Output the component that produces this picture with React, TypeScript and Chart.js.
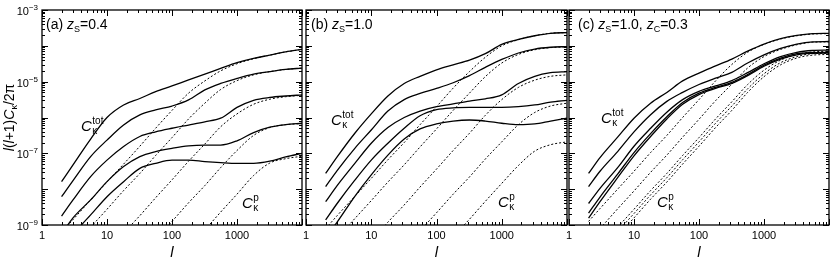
import React, { useEffect, useRef } from "react";
import { Chart, registerables } from "chart.js";

Chart.register(...registerables);

// ---------- data ----------
const ELL = [2, 3, 5.6, 10, 18, 32, 56, 100, 180, 320, 560, 1000, 1800, 3200, 5600, 10000];
const X_TICK_LABELS = [1, 10, 100, 1000];
const Y_LABEL_EXPONENTS = [-3, -5, -7, -9];

// panel (a) z_S = 0.4 : total spectra
const A_TOT_1 = [1.62e-8, 4.79e-8, 2.51e-7, 1.0e-6, 2.24e-6, 3.39e-6, 5.25e-6, 7.59e-6, 1.12e-5, 1.62e-5, 2.34e-5, 3.39e-5, 4.47e-5, 5.5e-5, 6.76e-5, 7.94e-5];
const A_TOT_2 = [6.17e-9, 1.74e-8, 8.13e-8, 2.34e-7, 6.17e-7, 1.18e-6, 1.62e-6, 2.09e-6, 3.09e-6, 5.89e-6, 8.91e-6, 1.23e-5, 1.62e-5, 1.91e-5, 2.19e-5, 2.4e-5];
const A_TOT_3 = [1.78e-9, 5.01e-9, 2.24e-8, 6.46e-8, 1.55e-7, 2.95e-7, 3.98e-7, 5.01e-7, 6.17e-7, 7.59e-7, 9.55e-7, 1.91e-6, 3.02e-6, 3.63e-6, 3.98e-6, 4.27e-6];
const A_TOT_4 = [5.62e-10, 1.58e-9, 5.01e-9, 1.62e-8, 4.27e-8, 8.13e-8, 1.12e-7, 1.38e-7, 1.62e-7, 1.7e-7, 1.7e-7, 2.24e-7, 3.8e-7, 5.37e-7, 6.31e-7, 6.92e-7];
const A_TOT_5 = [null, 5.62e-10, 1.91e-9, 6.17e-9, 1.62e-8, 3.8e-8, 5.25e-8, 6.46e-8, 6.46e-8, 5.89e-8, 5.5e-8, 5.25e-8, 5.25e-8, 6.03e-8, 7.94e-8, 1.0e-7];
// panel (a) : Poisson spectra
const A_P_1 = [6.31e-10, 1.41e-9, 5.01e-9, 1.58e-8, 5.01e-8, 1.58e-7, 5.01e-7, 1.58e-6, 4.79e-6, 1.05e-5, 2.0e-5, 3.16e-5, 4.37e-5, 5.5e-5, 6.76e-5, 7.94e-5];
const A_P_2 = [null, null, 8.71e-10, 2.75e-9, 9.12e-9, 2.75e-8, 8.71e-8, 2.75e-7, 9.12e-7, 2.51e-6, 6.03e-6, 1.07e-5, 1.55e-5, 1.91e-5, 2.19e-5, 2.4e-5];
const A_P_3 = [null, null, null, null, 6.03e-10, 1.82e-9, 5.75e-9, 1.82e-8, 6.03e-8, 1.82e-7, 5.5e-7, 1.26e-6, 2.34e-6, 3.24e-6, 3.8e-6, 4.17e-6];
const A_P_4 = [null, null, null, null, null, null, 3.98e-10, 1.26e-9, 4.17e-9, 1.26e-8, 3.98e-8, 1.2e-7, 3.16e-7, 5.25e-7, 6.31e-7, 6.76e-7];
const A_P_5 = [null, null, null, null, null, null, null, null, null, 7.24e-10, 2.29e-9, 7.24e-9, 2.4e-8, 5.37e-8, 7.08e-8, 8.32e-8];

// panel (b) z_S = 1.0
const B_TOT_1 = [2.75e-8, 7.94e-8, 3.63e-7, 1.26e-6, 3.98e-6, 8.91e-6, 1.41e-5, 2.14e-5, 2.95e-5, 3.98e-5, 6.03e-5, 1.1e-4, 1.51e-4, 1.91e-4, 2.24e-4, 2.34e-4];
const B_TOT_2 = [1.18e-8, 3.31e-8, 1.38e-7, 4.47e-7, 1.51e-6, 3.16e-6, 4.68e-6, 6.46e-6, 9.33e-6, 1.48e-5, 2.51e-5, 4.17e-5, 6.31e-5, 8.13e-5, 9.12e-5, 9.55e-5];
const B_TOT_3 = [4.47e-9, 1.26e-8, 5.25e-8, 1.91e-7, 5.25e-7, 1.0e-6, 1.51e-6, 2.0e-6, 2.4e-6, 2.88e-6, 3.31e-6, 4.27e-6, 8.91e-6, 1.41e-5, 1.78e-5, 1.91e-5];
const B_TOT_4 = [1.38e-9, 3.98e-9, 1.78e-8, 6.46e-8, 1.91e-7, 5.01e-7, 1.12e-6, 1.66e-6, 1.86e-6, 1.91e-6, 1.91e-6, 1.91e-6, 2.0e-6, 2.24e-6, 2.69e-6, 3.02e-6];
const B_TOT_5 = [4.47e-10, 1.2e-9, 6.31e-9, 2.51e-8, 8.91e-8, 2.51e-7, 4.79e-7, 6.61e-7, 7.94e-7, 8.51e-7, 7.94e-7, 6.92e-7, 6.31e-7, 6.61e-7, 7.94e-7, 9.55e-7];
const B_P_1 = [7.94e-10, 1.82e-9, 6.31e-9, 2.0e-8, 6.61e-8, 2.0e-7, 6.31e-7, 2.0e-6, 6.61e-6, 1.91e-5, 4.79e-5, 1.0e-4, 1.48e-4, 1.91e-4, 2.24e-4, 2.34e-4];
const B_P_2 = [null, 4.37e-10, 1.51e-9, 4.79e-9, 1.58e-8, 4.79e-8, 1.51e-7, 4.79e-7, 1.58e-6, 4.79e-6, 1.38e-5, 3.31e-5, 5.75e-5, 7.76e-5, 8.91e-5, 9.33e-5];
const B_P_3 = [null, null, null, 3.63e-10, 1.2e-9, 3.63e-9, 1.15e-8, 3.63e-8, 1.2e-7, 3.63e-7, 1.15e-6, 3.16e-6, 6.92e-6, 1.1e-5, 1.41e-5, 1.55e-5];
const B_P_4 = [null, null, null, null, null, null, 6.92e-10, 2.19e-9, 7.24e-9, 2.19e-8, 6.92e-8, 2.09e-7, 6.31e-7, 1.38e-6, 2.09e-6, 2.51e-6];
const B_P_5 = [null, null, null, null, null, null, null, null, 4.79e-10, 1.45e-9, 4.57e-9, 1.45e-8, 4.57e-8, 1.15e-7, 1.74e-7, 2.09e-7];

// panel (c) z_S = 1.0, z_C = 0.3
const C_TOT_1 = [2.75e-8, 7.59e-8, 2.82e-7, 9.55e-7, 2.51e-6, 5.01e-6, 1.05e-5, 1.74e-5, 2.75e-5, 4.27e-5, 7.08e-5, 1.12e-4, 1.58e-4, 1.95e-4, 2.19e-4, 2.24e-4];
const C_TOT_2 = [1.18e-8, 3.16e-8, 1.12e-7, 3.98e-7, 1.2e-6, 2.82e-6, 5.01e-6, 8.32e-6, 1.26e-5, 1.82e-5, 3.31e-5, 5.62e-5, 8.51e-5, 1.12e-4, 1.29e-4, 1.32e-4];
const C_TOT_3 = [3.98e-9, 1.05e-8, 3.98e-8, 1.58e-7, 5.01e-7, 1.41e-6, 3.16e-6, 5.37e-6, 7.59e-6, 1.07e-5, 1.78e-5, 3.16e-5, 5.01e-5, 6.61e-5, 7.41e-5, 7.59e-5];
const C_TOT_4 = [2.14e-9, 6.03e-9, 2.63e-8, 1.05e-7, 3.55e-7, 1.05e-6, 2.63e-6, 4.79e-6, 6.92e-6, 9.55e-6, 1.58e-5, 2.88e-5, 4.57e-5, 6.03e-5, 6.46e-5, 6.61e-5];
const C_TOT_5 = [1.55e-9, 4.47e-9, 2.09e-8, 8.51e-8, 2.95e-7, 9.12e-7, 2.34e-6, 4.37e-6, 6.46e-6, 8.91e-6, 1.48e-5, 2.69e-5, 4.27e-5, 5.62e-5, 6.17e-5, 6.31e-5];
const C_P_1 = [1.26e-9, 2.88e-9, 1.0e-8, 3.16e-8, 1.05e-7, 3.16e-7, 1.0e-6, 3.16e-6, 1.05e-5, 3.02e-5, 6.61e-5, 1.1e-4, 1.55e-4, 1.91e-4, 2.14e-4, 2.19e-4];
const C_P_2 = [null, 7.94e-10, 2.82e-9, 8.91e-9, 2.95e-8, 8.91e-8, 2.82e-7, 8.91e-7, 2.95e-6, 8.51e-6, 2.4e-5, 5.01e-5, 7.94e-5, 1.07e-4, 1.26e-4, 1.29e-4];
const C_P_3 = [null, null, 8.71e-10, 2.75e-9, 9.12e-9, 2.75e-8, 8.71e-8, 2.75e-7, 9.12e-7, 2.75e-6, 8.32e-6, 2.09e-5, 3.98e-5, 5.75e-5, 6.76e-5, 7.08e-5];
const C_P_4 = [null, null, 6.61e-10, 2.09e-9, 6.92e-9, 2.09e-8, 6.61e-8, 2.09e-7, 6.92e-7, 2.09e-6, 6.31e-6, 1.66e-5, 3.39e-5, 5.01e-5, 6.03e-5, 6.17e-5];
const C_P_5 = [null, null, 5.01e-10, 1.58e-9, 5.25e-9, 1.58e-8, 5.01e-8, 1.58e-7, 5.25e-7, 1.58e-6, 5.01e-6, 1.38e-5, 2.95e-5, 4.57e-5, 5.5e-5, 5.75e-5];

// ---------- layout / style ----------
const W = 831;
const H = 261;
const TOP = 10;
const BOTTOM = 225;
const FONT = '"Liberation Sans", Arial, Helvetica, sans-serif';
const fnt = (size: number, italic = false) => `${italic ? "italic " : ""}${size}px ${FONT}`;

type Seg = { t: string; size: number; italic?: boolean; dy?: number };

function segsWidth(ctx: CanvasRenderingContext2D, segs: Seg[]) {
  let w = 0;
  for (const s of segs) {
    ctx.font = fnt(s.size, s.italic);
    w += ctx.measureText(s.t).width;
  }
  return w;
}
function drawSegs(ctx: CanvasRenderingContext2D, segs: Seg[], x: number, y: number) {
  let cx = x;
  for (const s of segs) {
    ctx.font = fnt(s.size, s.italic);
    ctx.fillText(s.t, cx, y + (s.dy || 0));
    cx += ctx.measureText(s.t).width;
  }
  return cx - x;
}
function drawCkappa(ctx: CanvasRenderingContext2D, x: number, y: number, sup: string) {
  ctx.font = fnt(15, true);
  ctx.fillText("C", x, y);
  const cw = ctx.measureText("C").width;
  ctx.font = fnt(10);
  ctx.fillText("\u03ba", x + cw + 0.5, y + 3);
  ctx.fillText(sup, x + cw + 0.5, y - 7);
}

type PanelCfg = {
  left: number;
  right: number;
  tot: (number | null)[][];
  poi: (number | null)[][];
  title: Seg[];
  titleX: number;
  totPos: [number, number];
  pPos: [number, number];
  yLabels: boolean;
};

const PANELS: PanelCfg[] = [
  {
    left: 42, right: 302,
    tot: [A_TOT_1, A_TOT_2, A_TOT_3, A_TOT_4, A_TOT_5],
    poi: [A_P_1, A_P_2, A_P_3, A_P_4, A_P_5],
    title: [{ t: "(a) ", size: 14 }, { t: "z", size: 14, italic: true }, { t: "S", size: 9, dy: 3 }, { t: "=0.4", size: 14 }],
    titleX: 46, totPos: [81, 131], pPos: [242, 208], yLabels: true,
  },
  {
    left: 306, right: 567,
    tot: [B_TOT_1, B_TOT_2, B_TOT_3, B_TOT_4, B_TOT_5],
    poi: [B_P_1, B_P_2, B_P_3, B_P_4, B_P_5],
    title: [{ t: "(b) ", size: 14 }, { t: "z", size: 14, italic: true }, { t: "S", size: 9, dy: 3 }, { t: "=1.0", size: 14 }],
    titleX: 311, totPos: [331, 125], pPos: [498, 207], yLabels: false,
  },
  {
    left: 569, right: 829,
    tot: [C_TOT_1, C_TOT_2, C_TOT_3, C_TOT_4, C_TOT_5],
    poi: [C_P_1, C_P_2, C_P_3, C_P_4, C_P_5],
    title: [
      { t: "(c) ", size: 14 }, { t: "z", size: 14, italic: true }, { t: "S", size: 9, dy: 3 }, { t: "=1.0, ", size: 14 },
      { t: "z", size: 14, italic: true }, { t: "C", size: 9, dy: 3 }, { t: "=0.3", size: 14 },
    ],
    titleX: 578, totPos: [601, 123], pPos: [657, 207], yLabels: false,
  },
];

function makeOverlay(cfg: PanelCfg) {
  return {
    id: "overlay",
    afterDraw(chart: any) {
      const ctx: CanvasRenderingContext2D = chart.ctx;
      const { left, right, top, bottom } = chart.chartArea;
      const xs = chart.scales.x;
      const ys = chart.scales.y;
      ctx.save();
      ctx.strokeStyle = "#000";
      ctx.fillStyle = "#000";
      ctx.lineWidth = 1.3;
      ctx.strokeRect(left, top, right - left, bottom - top);
      ctx.lineWidth = 1;
      ctx.beginPath();
      // x ticks
      for (let d = 0; d <= 4; d++) {
        for (let m = 1; m <= 9; m++) {
          const v = m * Math.pow(10, d);
          if (v > 10000) break;
          const px = Math.round(xs.getPixelForValue(v)) + 0.5;
          const len = m === 1 ? 6 : 3;
          ctx.moveTo(px, bottom);
          ctx.lineTo(px, bottom - len);
          ctx.moveTo(px, top);
          ctx.lineTo(px, top + len);
        }
      }
      // y ticks
      for (let e = -9; e <= -3; e++) {
        for (let m = 1; m <= 9; m++) {
          const v = m * Math.pow(10, e);
          if (v > 1e-3 * 1.0001) break;
          const py = Math.round(ys.getPixelForValue(v)) + 0.5;
          const len = m === 1 ? 6 : 3;
          ctx.moveTo(left, py);
          ctx.lineTo(left + len, py);
          ctx.moveTo(right, py);
          ctx.lineTo(right - len, py);
        }
      }
      ctx.stroke();

      // x tick labels
      ctx.textBaseline = "alphabetic";
      ctx.textAlign = "center";
      ctx.font = fnt(11);
      for (const v of X_TICK_LABELS) {
        ctx.fillText(String(v), xs.getPixelForValue(v), 239);
      }
      ctx.textAlign = "left";

      // y tick labels
      if (cfg.yLabels) {
        for (const e of Y_LABEL_EXPONENTS) {
          const py = ys.getPixelForValue(Math.pow(10, e));
          const segs: Seg[] = [{ t: "10", size: 11 }, { t: "\u2212" + Math.abs(e), size: 8, dy: -5 }];
          const w = segsWidth(ctx, segs);
          drawSegs(ctx, segs, left - 4 - w, py + 5);
        }
        // y axis title
        const ysegs: Seg[] = [
          { t: "l", size: 14, italic: true }, { t: "(", size: 14 }, { t: "l", size: 14, italic: true },
          { t: "+1)", size: 14 }, { t: "C", size: 14, italic: true }, { t: "\u03ba", size: 9, dy: 3 },
          { t: "/2\u03c0", size: 14 },
        ];
        const yw = segsWidth(ctx, ysegs);
        ctx.save();
        ctx.translate(14, (top + bottom) / 2);
        ctx.rotate(-Math.PI / 2);
        drawSegs(ctx, ysegs, -yw / 2, 0);
        ctx.restore();
      }

      // x axis title
      ctx.font = fnt(15, true);
      ctx.textAlign = "center";
      ctx.fillText("l", (left + right) / 2, 257);
      ctx.textAlign = "left";

      // panel title
      drawSegs(ctx, cfg.title, cfg.titleX, 29);

      // curve annotations
      drawCkappa(ctx, cfg.totPos[0], cfg.totPos[1], "tot");
      drawCkappa(ctx, cfg.pPos[0], cfg.pPos[1], "p");
      ctx.restore();
    },
  };
}

function Panel({ cfg }: { cfg: PanelCfg }) {
  const ref = useRef<HTMLCanvasElement>(null);
  useEffect(() => {
    const toPts = (arr: (number | null)[]) => ELL.map((l, i) => ({ x: l, y: arr[i] }));
    const datasets: any[] = [];
    cfg.poi.forEach((arr) =>
      datasets.push({
        data: toPts(arr),
        borderColor: "#000",
        borderWidth: 1,
        borderDash: [2, 2],
        pointRadius: 0,
        fill: false,
        cubicInterpolationMode: "monotone",
      })
    );
    cfg.tot.forEach((arr) =>
      datasets.push({
        data: toPts(arr),
        borderColor: "#000",
        borderWidth: 1.3,
        pointRadius: 0,
        fill: false,
        cubicInterpolationMode: "monotone",
      })
    );
    const chart = new Chart(ref.current as HTMLCanvasElement, {
      type: "line",
      data: { datasets },
      options: {
        responsive: false,
        animation: false,
        events: [],
        layout: { padding: { left: cfg.left, right: W - cfg.right, top: TOP, bottom: H - BOTTOM } },
        plugins: { legend: { display: false }, tooltip: { enabled: false } },
        scales: {
          x: { type: "logarithmic", min: 1, max: 10000, display: false },
          y: { type: "logarithmic", min: 1e-9, max: 1e-3, display: false },
        },
      },
      plugins: [makeOverlay(cfg)],
    } as any);
    return () => chart.destroy();
  }, [cfg]);
  return (
    <canvas
      ref={ref}
      width={W}
      height={H}
      style={{ position: "absolute", left: 0, top: 0, width: W, height: H, pointerEvents: "none" }}
    />
  );
}

export default function App() {
  return (
    <div style={{ position: "absolute", left: 0, top: 0, width: W, height: H, background: "#fff", overflow: "hidden" }}>
      {PANELS.map((p, i) => (
        <Panel key={i} cfg={p} />
      ))}
    </div>
  );
}
